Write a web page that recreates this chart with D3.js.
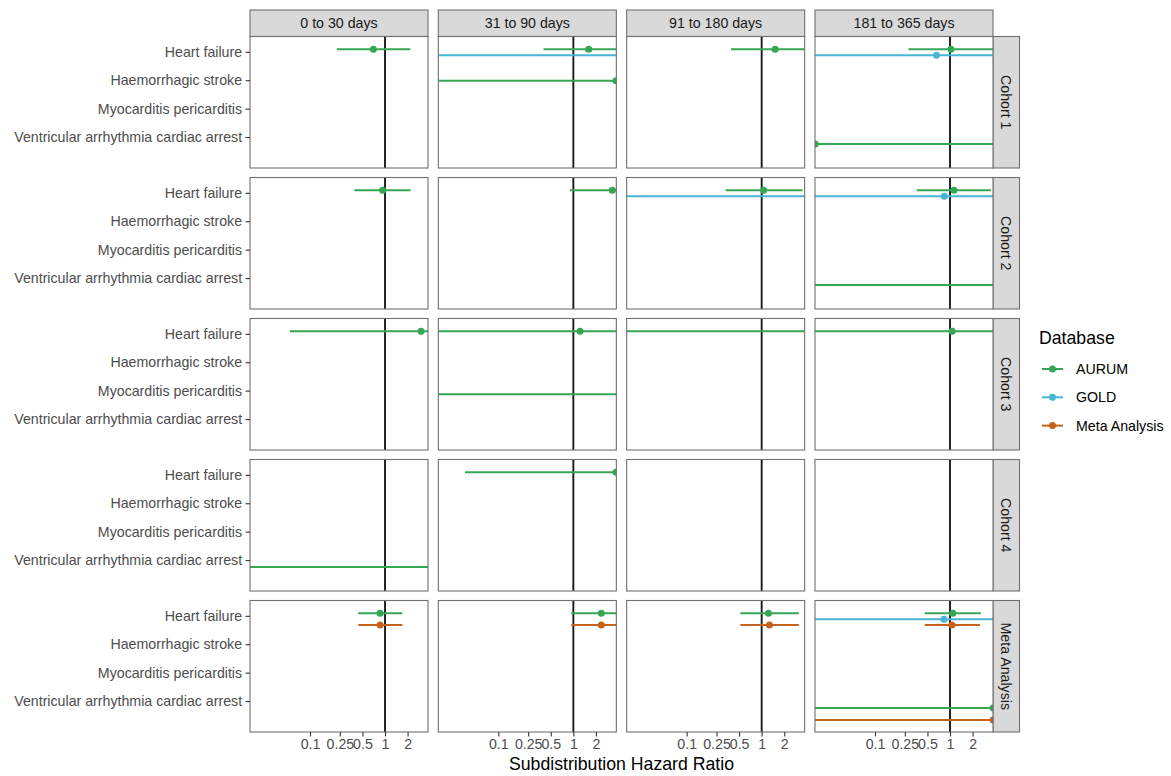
<!DOCTYPE html>
<html>
<head>
<meta charset="utf-8">
<script src="https://cdn.jsdelivr.net/npm/d3@7"></script>
<style>
  html, body { margin: 0; padding: 0; background: #ffffff; }
  svg { display: block; font-family: "Liberation Sans", Arial, Helvetica, sans-serif; }
</style>
</head>
<body>
<svg id="chart" width="1171" height="776"></svg>
<script>
// ---------- data ----------
const periods = ["0 to 30 days", "31 to 90 days", "91 to 180 days", "181 to 365 days"];
const cohorts = ["Cohort 1", "Cohort 2", "Cohort 3", "Cohort 4", "Meta Analysis"];
const outcomes = ["Heart failure", "Haemorrhagic stroke", "Myocarditis pericarditis", "Ventricular arrhythmia cardiac arrest"];
const databases = ["AURUM", "GOLD", "Meta Analysis"];
const dbColors = ["#35a653", "#47b5d4", "#c5621c"];
const xTickValues = [0.1, 0.25, 0.5, 1, 2];
const xTickLabels = ["0.1", "0.25", "0.5", "1", "2"];

// one entry per estimate (null estimate = point outside the plotted range)
const rowCohort   = ["Cohort 1","Cohort 1","Cohort 1","Cohort 1","Cohort 1","Cohort 1","Cohort 1","Cohort 1",
                     "Cohort 2","Cohort 2","Cohort 2","Cohort 2","Cohort 2","Cohort 2","Cohort 2",
                     "Cohort 3","Cohort 3","Cohort 3","Cohort 3","Cohort 3",
                     "Cohort 4","Cohort 4",
                     "Meta Analysis","Meta Analysis","Meta Analysis","Meta Analysis","Meta Analysis","Meta Analysis",
                     "Meta Analysis","Meta Analysis","Meta Analysis","Meta Analysis","Meta Analysis"];
const rowPeriod   = [0,1,1,1,2,3,3,3, 0,1,2,2,3,3,3, 0,1,1,2,3, 0,1, 0,0,1,1,2,2,3,3,3,3,3];
const rowOutcome  = [0,0,0,1,0,0,0,3, 0,0,0,0,0,0,3, 0,0,2,0,0, 3,0, 0,0,0,0,0,0,0,0,0,3,3];
const rowDatabase = ["AURUM","AURUM","GOLD","AURUM","AURUM","AURUM","GOLD","AURUM",
                     "AURUM","AURUM","AURUM","GOLD","AURUM","GOLD","AURUM",
                     "AURUM","AURUM","AURUM","AURUM","AURUM",
                     "AURUM","AURUM",
                     "AURUM","Meta Analysis","AURUM","Meta Analysis","AURUM","Meta Analysis",
                     "AURUM","GOLD","Meta Analysis","AURUM","Meta Analysis"];
const estimate = [0.70, 1.60, null, 3.70, 1.51, 1.03, 0.66, 0.016,
                  0.93, 3.31, 1.06, null, 1.13, 0.84, null,
                  3.02, 1.23, null, null, 1.07,
                  null, 3.70,
                  0.86, 0.86, 2.36, 2.36, 1.23, 1.27, 1.09, 0.83, 1.06, 3.75, 3.75];
const lowerCI  = [0.228, 0.40, 0.001, 0.001, 0.39, 0.28, 0.001, 0.001,
                  0.39, 0.90, 0.33, 0.001, 0.36, 0.001, 0.001,
                  0.054, 0.001, 0.001, 0.001, 0.001,
                  0.001, 0.036,
                  0.44, 0.44, 0.94, 0.94, 0.52, 0.52, 0.46, 0.001, 0.46, 0.001, 0.001];
const upperCI  = [2.17, 100, 100, 100, 100, 100, 100, 100,
                  2.19, 100, 3.51, 100, 3.51, 100, 100,
                  100, 100, 100, 100, 100,
                  100, 100,
                  1.70, 1.70, 100, 100, 3.12, 3.13, 2.58, 100, 2.50, 100, 100];

const records = estimate.map((e, i) => ({
  cohort: rowCohort[i], period: rowPeriod[i], outcome: rowOutcome[i],
  db: rowDatabase[i], est: e, lo: lowerCI[i], hi: upperCI[i]
}));

// ---------- layout ----------
const svg = d3.select("#chart");
const panelW = 178, panelH = 131.5;
const colStep = 188.33, rowStep = 141;
const left0 = 250, top0 = 36.5;
const stripH = 26.5, stripW = 26.5;
const borderCol = "#707070";

const x = d3.scaleLog().domain([Math.pow(10, -1.8), Math.pow(10, 0.573)]).range([0, panelW]);
const y = d3.scaleLinear().domain([-0.54, 4.09]).range([0, panelH]);
const dataPos = (k, d) => k * 1.113 + d * 0.211 - 0.095;
const color = d3.scaleOrdinal().domain(databases).range(dbColors);

// column strips
periods.forEach((p, c) => {
  const g = svg.append("g").attr("transform", `translate(${left0 + c * colStep},${top0 - stripH})`);
  g.append("rect").attr("width", panelW).attr("height", stripH)
    .attr("fill", "#d9d9d9").attr("stroke", borderCol).attr("stroke-width", 1.1);
  g.append("text").attr("x", panelW / 2).attr("y", stripH / 2).attr("dy", "0.35em")
    .attr("text-anchor", "middle").attr("font-size", 14.2).attr("fill", "#1a1a1a").text(p);
});

cohorts.forEach((coh, r) => {
  const ty = top0 + r * rowStep;
  // row strip
  const sg = svg.append("g").attr("transform", `translate(${left0 + 3 * colStep + panelW},${ty})`);
  sg.append("rect").attr("width", stripW).attr("height", panelH)
    .attr("fill", "#d9d9d9").attr("stroke", borderCol).attr("stroke-width", 1.1);
  sg.append("text").attr("transform", `translate(${stripW / 2},${panelH / 2}) rotate(90)`)
    .attr("dy", "0.35em").attr("text-anchor", "middle").attr("font-size", 14.2)
    .attr("fill", "#1a1a1a").text(coh);

  periods.forEach((p, c) => {
    const tx = left0 + c * colStep;
    const g = svg.append("g").attr("transform", `translate(${tx},${ty})`);
    const clipId = `clip-${r}-${c}`;
    g.append("clipPath").attr("id", clipId).append("rect")
      .attr("width", panelW).attr("height", panelH);
    g.append("rect").attr("width", panelW).attr("height", panelH).attr("fill", "#ffffff");

    const inner = g.append("g").attr("clip-path", `url(#${clipId})`);
    // reference line
    inner.append("line").attr("x1", x(1)).attr("x2", x(1)).attr("y1", 0).attr("y2", panelH)
      .attr("stroke", "#1a1a1a").attr("stroke-width", 1.9);

    const recs = records.filter(d => d.cohort === coh && d.period === c);
    recs.forEach(d => {
      const yy = y(dataPos(d.outcome, databases.indexOf(d.db)));
      inner.append("line").attr("x1", x(d.lo)).attr("x2", x(d.hi))
        .attr("y1", yy).attr("y2", yy)
        .attr("stroke", color(d.db)).attr("stroke-width", 2);
    });
    recs.filter(d => d.est !== null).forEach(d => {
      const yy = y(dataPos(d.outcome, databases.indexOf(d.db)));
      inner.append("circle").attr("cx", x(d.est)).attr("cy", yy).attr("r", 3.5)
        .attr("fill", color(d.db));
    });

    g.append("rect").attr("width", panelW).attr("height", panelH)
      .attr("fill", "none").attr("stroke", borderCol).attr("stroke-width", 1.1);

    if (c === 0) {
      const ya = g.append("g").call(
        d3.axisLeft(y).tickValues([0, 1, 2, 3]).tickFormat(i => outcomes[i])
          .tickSize(4.4).tickPadding(3.5));
      ya.select(".domain").remove();
      ya.selectAll(".tick line").attr("stroke", "#333333").attr("stroke-width", 1.1);
      ya.selectAll(".tick text").attr("font-size", 14.2).attr("fill", "#4d4d4d")
        .attr("font-family", "Liberation Sans, Arial, sans-serif");
    }
    if (r === cohorts.length - 1) {
      const xa = g.append("g").attr("transform", `translate(0,${panelH})`).call(
        d3.axisBottom(x).tickValues(xTickValues)
          .tickFormat((v, i) => xTickLabels[i]).tickSize(4.4).tickPadding(3));
      xa.select(".domain").remove();
      xa.selectAll(".tick line").attr("stroke", "#333333").attr("stroke-width", 1.1);
      xa.selectAll(".tick text").attr("font-size", 14.2).attr("fill", "#4d4d4d")
        .attr("font-family", "Liberation Sans, Arial, sans-serif");
    }
  });
});

// x-axis title
svg.append("text").attr("x", left0 + (3 * colStep + panelW) / 2).attr("y", 769.5)
  .attr("text-anchor", "middle").attr("font-size", 17.7).attr("fill", "#000000")
  .text("Subdistribution Hazard Ratio");

// legend
const lg = svg.append("g").attr("transform", "translate(1039,0)");
lg.append("text").attr("x", 0).attr("y", 344).attr("font-size", 17.7).attr("fill", "#000000")
  .text("Database");
databases.forEach((db, i) => {
  const ly = 369 + i * 28.3;
  lg.append("line").attr("x1", 3).attr("x2", 24).attr("y1", ly).attr("y2", ly)
    .attr("stroke", color(db)).attr("stroke-width", 2);
  lg.append("circle").attr("cx", 13.5).attr("cy", ly).attr("r", 3.5).attr("fill", color(db));
  lg.append("text").attr("x", 37).attr("y", ly).attr("dy", "0.35em")
    .attr("font-size", 14.2).attr("fill", "#000000").text(db);
});
</script>
</body>
</html>
